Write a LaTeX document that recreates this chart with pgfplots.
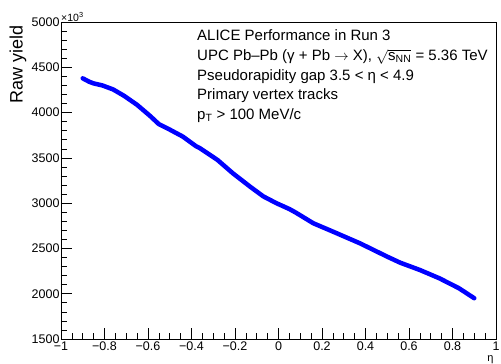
\documentclass[border=0pt]{standalone}
\usepackage{fontspec}
\setmainfont{Liberation Sans}
\usepackage{pgfplots}
\pgfplotsset{compat=1.18}
\begin{document}
\begin{tikzpicture}
\useasboundingbox (-61pt,-25pt) rectangle (440pt,339pt);
\begin{axis}[
  at={(0,0)}, anchor=south west,
  scale only axis, width=435pt, height=317pt,
  xmin=-1, xmax=1, ymin=1500, ymax=5000,
  xtick={-1,-0.8,-0.6,-0.4,-0.2,0,0.2,0.4,0.6,0.8,1},
  xticklabels={−1,−0.8,−0.6,−0.4,−0.2,0,0.2,0.4,0.6,0.8,1},
  ytick={1500,2000,2500,3000,3500,4000,4500,5000},
  yticklabels={1500,2000,2500,3000,3500,4000,4500,5000},
  minor x tick num=3, minor y tick num=4,
  tick pos=left, tick align=inside,
  major tick length=11pt, minor tick length=5.5pt,
  tick style={black, line width=0.6pt},
  axis line style={line width=0.8pt},
  /pgf/number format/assume math mode=true,
  ticklabel style={font=\fontsize{12.5}{13}\selectfont},
  xticklabel style={yshift=1pt},
  yticklabel style={xshift=2pt},
  xlabel={η},
  xlabel style={at={(rel axis cs:1,0)}, anchor=north east, yshift=-13pt, xshift=1pt, font=\fontsize{11}{11}\selectfont},
  ylabel={Raw yield},
  ylabel style={at={(rel axis cs:-0.099,1.0)}, anchor=east, font=\fontsize{18}{18}\selectfont},
  clip=false,
]
\addplot[blue, line width=4.5pt, line join=round, line cap=round] coordinates {
(-0.90,4378) (-0.87,4340) (-0.85,4322) (-0.81,4300) (-0.76,4255) (-0.71,4185)
(-0.65,4085) (-0.59,3962) (-0.55,3872) (-0.50,3812) (-0.44,3735) (-0.38,3630)
(-0.36,3605) (-0.28,3476) (-0.21,3330) (-0.13,3181) (-0.07,3075) (-0.01,3000)
(0.05,2935) (0.08,2895) (0.16,2778) (0.25,2686) (0.375,2556) (0.50,2409)
(0.56,2342) (0.65,2262) (0.74,2170) (0.83,2060) (0.90,1950)
};
\node[anchor=south west, inner sep=0pt, font=\fontsize{10.5}{10.5}\selectfont] at (rel axis cs:0,1) {×10\textsuperscript{3}};
\node[anchor=north west, align=left, inner sep=0pt, font=\fontsize{15}{19.6}\selectfont] at (rel axis cs:0.3126,0.975) {ALICE Performance in Run 3\\
UPC Pb–Pb (γ + Pb $\rightarrow$ X), \smash{$\sqrt{\mbox{s\textsubscript{NN}}}$} = 5.36 TeV\\
Pseudorapidity gap 3.5 < η < 4.9\\
Primary vertex tracks\\
p\textsubscript{T} > 100 MeV/c};
\end{axis}
\end{tikzpicture}
\end{document}
